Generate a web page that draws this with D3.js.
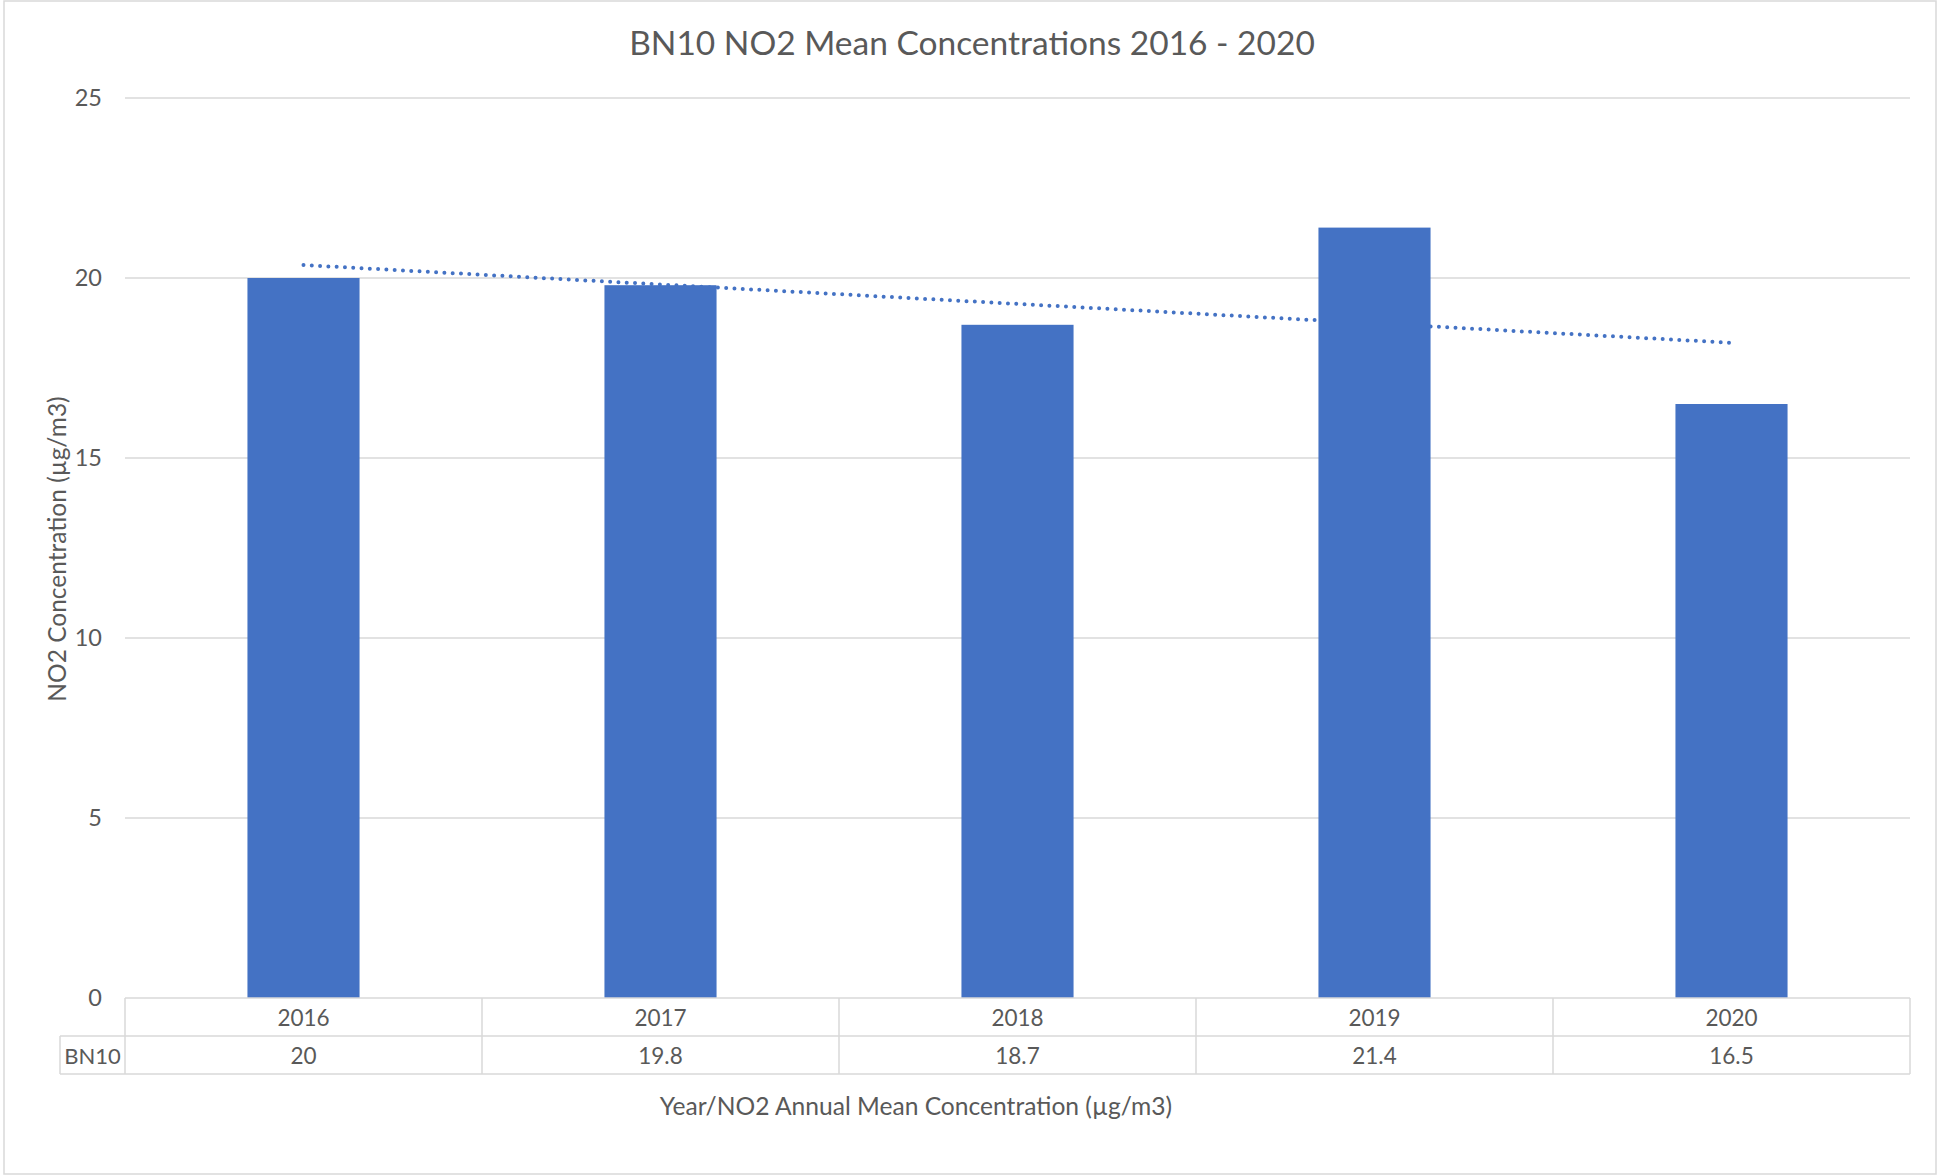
<!DOCTYPE html>
<html>
<head>
<meta charset="utf-8">
<script src="https://cdn.jsdelivr.net/npm/d3@7"></script>
<style>
  html, body { margin: 0; padding: 0; background: #fff; }
  svg { display: block; }
  text { font-family: Lato, "Open Sans", sans-serif; fill: #595959; }
</style>
</head>
<body>
<svg id="chart" width="1939" height="1176"></svg>
<script>
const title = "BN10 NO2 Mean Concentrations 2016 - 2020";
const years = ["2016", "2017", "2018", "2019", "2020"];
const seriesName = "BN10";
const values = [20, 19.8, 18.7, 21.4, 16.5];
const yTicks = [0, 5, 10, 15, 20, 25];
const yTitle = "NO2 Concentration (µg/m3)";
const xTitle = "Year/NO2 Annual Mean Concentration (µg/m3)";

const svg = d3.select("#chart");
const plot = { left: 125, right: 1910, top: 98, bottom: 998 };
const rowH = 38;
const labelLeft = 60;
const grid = "#d9d9d9";
const barColor = "#4472C4";

// chart border
svg.append("rect").attr("x", 4).attr("y", 1).attr("width", 1932).attr("height", 1173)
  .attr("fill", "#fff").attr("stroke", grid).attr("stroke-width", 1.5);

const y = d3.scaleLinear().domain([0, 25]).range([plot.bottom, plot.top]);
const xCol = d3.scaleBand().domain(years).range([plot.left, plot.right]).padding(0);
const xBar = d3.scaleBand().domain(years).range([plot.left, plot.right])
  .paddingInner(0.686).paddingOuter(0.343);

// gridlines (0 is the table top)
svg.append("g").selectAll("line").data(yTicks.filter(t => t > 0)).join("line")
  .attr("x1", plot.left).attr("x2", plot.right)
  .attr("y1", d => y(d)).attr("y2", d => y(d))
  .attr("stroke", grid).attr("stroke-width", 1.5);

// y axis labels
const yAxis = d3.axisLeft(y).tickValues(yTicks).tickSize(0).tickPadding(23);
const gy = svg.append("g").attr("transform", `translate(${plot.left},0)`).call(yAxis);
gy.select(".domain").remove();
gy.selectAll("text").attr("font-size", 23.5).attr("fill", "#595959")
  .style("font-family", "Lato, sans-serif");

// linear trendline (least squares over category index)
const n = values.length;
const xs = values.map((_, i) => i + 1);
const mx = d3.mean(xs), my = d3.mean(values);
const slope = d3.sum(xs.map((xv, i) => (xv - mx) * (values[i] - my))) / d3.sum(xs.map(xv => (xv - mx) ** 2));
const icpt = my - slope * mx;
const trend = [0, n - 1].map(i => ({ x: xCol(years[i]) + xCol.bandwidth() / 2, v: icpt + slope * (i + 1) }));
svg.append("path")
  .attr("d", d3.line().x(d => d.x).y(d => y(d.v))(trend))
  .attr("fill", "none").attr("stroke", barColor).attr("stroke-width", 4)
  .attr("stroke-linecap", "round").attr("stroke-dasharray", "0 8.3");

// bars
svg.append("g").selectAll("rect").data(years).join("rect")
  .attr("x", d => xBar(d)).attr("width", xBar.bandwidth())
  .attr("y", (d, i) => y(values[i])).attr("height", (d, i) => y(0) - y(values[i]))
  .attr("fill", barColor);

// data table
const tg = svg.append("g").attr("stroke", grid).attr("stroke-width", 1.5);
tg.append("line").attr("x1", plot.left).attr("x2", plot.right).attr("y1", plot.bottom).attr("y2", plot.bottom);
tg.append("line").attr("x1", labelLeft).attr("x2", plot.right).attr("y1", plot.bottom + rowH).attr("y2", plot.bottom + rowH);
tg.append("line").attr("x1", labelLeft).attr("x2", plot.right).attr("y1", plot.bottom + 2 * rowH).attr("y2", plot.bottom + 2 * rowH);
tg.append("line").attr("x1", labelLeft).attr("x2", labelLeft).attr("y1", plot.bottom + rowH).attr("y2", plot.bottom + 2 * rowH);
const colEdges = years.map(d => xCol(d)).concat([plot.right]);
tg.selectAll("line.v").data(colEdges).join("line").attr("class", "v")
  .attr("x1", d => d).attr("x2", d => d).attr("y1", plot.bottom).attr("y2", plot.bottom + 2 * rowH);

svg.append("g").selectAll("text").data(years).join("text")
  .attr("x", d => xCol(d) + xCol.bandwidth() / 2).attr("y", plot.bottom + rowH / 2)
  .attr("text-anchor", "middle").attr("dominant-baseline", "central")
  .attr("font-size", 22.5).text(d => d);
svg.append("g").selectAll("text").data(years).join("text")
  .attr("x", d => xCol(d) + xCol.bandwidth() / 2).attr("y", plot.bottom + rowH * 1.5)
  .attr("text-anchor", "middle").attr("dominant-baseline", "central")
  .attr("font-size", 22.5).text((d, i) => String(values[i]));
svg.append("text").attr("x", (labelLeft + plot.left) / 2).attr("y", plot.bottom + rowH * 1.5)
  .attr("text-anchor", "middle").attr("dominant-baseline", "central")
  .attr("font-size", 22).text(seriesName);

// titles
svg.append("text").attr("x", 972).attr("y", 42).attr("text-anchor", "middle")
  .attr("dominant-baseline", "central").attr("font-size", 33.5).text(title);
svg.append("text").attr("x", 916).attr("y", 1105).attr("text-anchor", "middle")
  .attr("dominant-baseline", "central").attr("font-size", 24.6).text(xTitle);
svg.append("text").attr("transform", "translate(56,549) rotate(-90)")
  .attr("text-anchor", "middle").attr("dominant-baseline", "central")
  .attr("font-size", 24.5).text(yTitle);
</script>
</body>
</html>
